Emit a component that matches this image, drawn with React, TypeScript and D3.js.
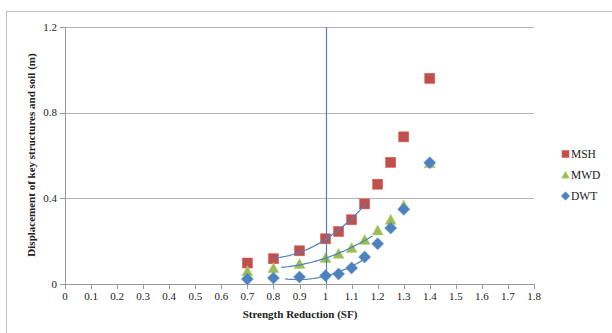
import React from "react";
import * as d3 from "d3";

const sf = [0.7, 0.8, 0.9, 1.0, 1.05, 1.1, 1.15, 1.2, 1.25, 1.3, 1.4];
const msh = [0.098, 0.118, 0.155, 0.211, 0.245, 0.3, 0.374, 0.466, 0.568, 0.687, 0.96];
const mwd = [0.059, 0.074, 0.093, 0.121, 0.141, 0.168, 0.206, 0.25, 0.3, 0.366, 0.564];
const dwt = [0.023, 0.028, 0.033, 0.039, 0.047, 0.075, 0.126, 0.188, 0.261, 0.349, 0.566];

const xTickLabels = ["0", "0.1", "0.2", "0.3", "0.4", "0.5", "0.6", "0.7", "0.8", "0.9", "1", "1.1", "1.2", "1.3", "1.4", "1.5", "1.6", "1.7", "1.8"];
const yTickLabels = ["0", "0.4", "0.8", "1.2"];

const seriesNames = ["MSH", "MWD", "DWT"];
const seriesColors = ["#c0504d", "#9bbb59", "#4f81bd"];
const seriesShapes = ["square", "triangle", "diamond"];
const trendFitRange = [0.8, 1.15];
const trendDrawStart = [0.8, 0.83, 0.845];
const trendDrawEnd = [1.16, 1.18, 1.165];
const refLineX = 1;

const FONT = "'Liberation Serif', 'Times New Roman', serif";

function quadFit(xs: number[], ys: number[]) {
  // least squares y = a + b x + c x^2
  let s0 = 0, s1 = 0, s2 = 0, s3 = 0, s4 = 0, t0 = 0, t1 = 0, t2 = 0;
  xs.forEach((x, i) => {
    const y = ys[i];
    s0 += 1; s1 += x; s2 += x * x; s3 += x * x * x; s4 += x * x * x * x;
    t0 += y; t1 += x * y; t2 += x * x * y;
  });
  const M = [
    [s0, s1, s2, t0],
    [s1, s2, s3, t1],
    [s2, s3, s4, t2],
  ];
  for (let i = 0; i < 3; i++) {
    for (let k = i + 1; k < 3; k++) {
      const f = M[k][i] / M[i][i];
      for (let j = i; j < 4; j++) M[k][j] -= f * M[i][j];
    }
  }
  const r = [0, 0, 0];
  for (let i = 2; i >= 0; i--) {
    let s = M[i][3];
    for (let j = i + 1; j < 3; j++) s -= M[i][j] * r[j];
    r[i] = s / M[i][i];
  }
  return (x: number) => r[0] + r[1] * x + r[2] * x * x;
}

function Marker({ shape, cx, cy, color, s }: { shape: string; cx: number; cy: number; color: string; s: number }) {
  const stroke = d3.color(color)!.brighter(0.4).toString();
  if (shape === "square") {
    return <rect x={cx - s / 2} y={cy - s / 2} width={s} height={s} fill={color} stroke={stroke} strokeWidth={0.6} />;
  }
  if (shape === "triangle") {
    const p = d3.path();
    p.moveTo(cx, cy - s * 0.55);
    p.lineTo(cx + s * 0.55, cy + s * 0.45);
    p.lineTo(cx - s * 0.55, cy + s * 0.45);
    p.closePath();
    return <path d={p.toString()} fill={color} stroke={stroke} strokeWidth={0.6} />;
  }
  const p = d3.path();
  const r = s * 0.6;
  p.moveTo(cx, cy - r);
  p.lineTo(cx + r, cy);
  p.lineTo(cx, cy + r);
  p.lineTo(cx - r, cy);
  p.closePath();
  return <path d={p.toString()} fill={color} stroke={stroke} strokeWidth={0.6} />;
}

export default function App() {
  const W = 612, H = 333;
  const x = d3.scaleLinear().domain([0, 1.8]).range([65, 534]);
  const y = d3.scaleLinear().domain([0, 1.2]).range([284, 27]);
  const data = [msh, mwd, dwt];
  const xVals = xTickLabels.map(Number);
  const yVals = yTickLabels.map(Number);

  const line = d3.line<[number, number]>().x((d) => x(d[0])).y((d) => y(d[1]));

  const trends = data.map((vals, si) => {
    const xs: number[] = [], ys: number[] = [];
    sf.forEach((v, i) => {
      if (v >= trendFitRange[0] - 1e-9 && v <= trendFitRange[1] + 1e-9) {
        xs.push(v);
        ys.push(vals[i]);
      }
    });
    const f = quadFit(xs, ys);
    const pts: [number, number][] = [];
    const a = trendDrawStart[si], b = trendDrawEnd[si];
    for (let k = 0; k <= 30; k++) {
      const t = a + ((b - a) * k) / 30;
      pts.push([t, f(t)]);
    }
    return line(pts) || "";
  });

  return (
    <svg width={W} height={H} style={{ position: "absolute", left: 0, top: 0, background: "#fff" }}>
      <rect x={6.5} y={11.5} width={W} height={H} fill="none" stroke="#c0c0c0" strokeWidth={1} />
      {/* gridlines */}
      {yVals.filter((v) => v > 0).map((v) => (
        <line key={"g" + v} x1={x(0)} x2={x(1.8)} y1={Math.round(y(v)) + 0.5} y2={Math.round(y(v)) + 0.5} stroke="#b4b4b4" strokeWidth={1} />
      ))}
      {/* axes */}
      <line x1={x(0)} x2={x(1.8)} y1={Math.round(y(0)) + 0.5} y2={Math.round(y(0)) + 0.5} stroke="#9a9a9a" />
      <line x1={Math.round(x(0)) + 0.5} x2={Math.round(x(0)) + 0.5} y1={y(1.2)} y2={y(0)} stroke="#9a9a9a" />
      {yVals.map((v) => (
        <g key={"yt" + v}>
          <line x1={x(0) - 5} x2={x(0)} y1={Math.round(y(v)) + 0.5} y2={Math.round(y(v)) + 0.5} stroke="#9a9a9a" />
          <text x={x(0) - 8} y={y(v) + 3.8} textAnchor="end" fontFamily={FONT} fontSize={11} fill="#222">
            {yTickLabels[yVals.indexOf(v)]}
          </text>
        </g>
      ))}
      {xVals.map((v, i) => (
        <g key={"xt" + i}>
          <line x1={Math.round(x(v)) + 0.5} x2={Math.round(x(v)) + 0.5} y1={y(0)} y2={y(0) + 5} stroke="#9a9a9a" />
          <text x={x(v)} y={y(0) + 16} textAnchor="middle" fontFamily={FONT} fontSize={11} fill="#222">
            {xTickLabels[i]}
          </text>
        </g>
      ))}
      {/* markers */}
      {data.map((vals, si) => (
        <g key={"s" + si}>
          {vals.map((v, i) => (
            <Marker key={i} shape={seriesShapes[si]} cx={x(sf[i])} cy={y(v)} color={seriesColors[si]} s={si === 0 ? 10 : 10} />
          ))}
        </g>
      ))}
      {/* reference line */}
      <line x1={Math.round(x(refLineX)) + 0.5} x2={Math.round(x(refLineX)) + 0.5} y1={y(1.2)} y2={y(0)} stroke="#4f81bd" strokeWidth={1.2} />
      {/* trendlines */}
      {trends.map((d, i) => (
        <path key={"t" + i} d={d} fill="none" stroke="#4f81bd" strokeWidth={1.2} />
      ))}
      {/* legend */}
      {seriesNames.map((n, i) => (
        <g key={"l" + n}>
          <Marker shape={seriesShapes[i]} cx={565.5} cy={154 + i * 21} color={seriesColors[i]} s={7} />
          <text x={571} y={154 + i * 21 + 4} fontFamily={FONT} fontSize={11.5} fill="#222">
            {n}
          </text>
        </g>
      ))}
      {/* axis titles */}
      <text x={300} y={318} textAnchor="middle" fontFamily={FONT} fontSize={11} fontWeight="bold" fill="#222">
        Strength Reduction (SF)
      </text>
      <text transform="translate(35,155) rotate(-90)" textAnchor="middle" fontFamily={FONT} fontSize={11} fontWeight="bold" fill="#222">
        Displacement of key structures and soil (m)
      </text>
    </svg>
  );
}
